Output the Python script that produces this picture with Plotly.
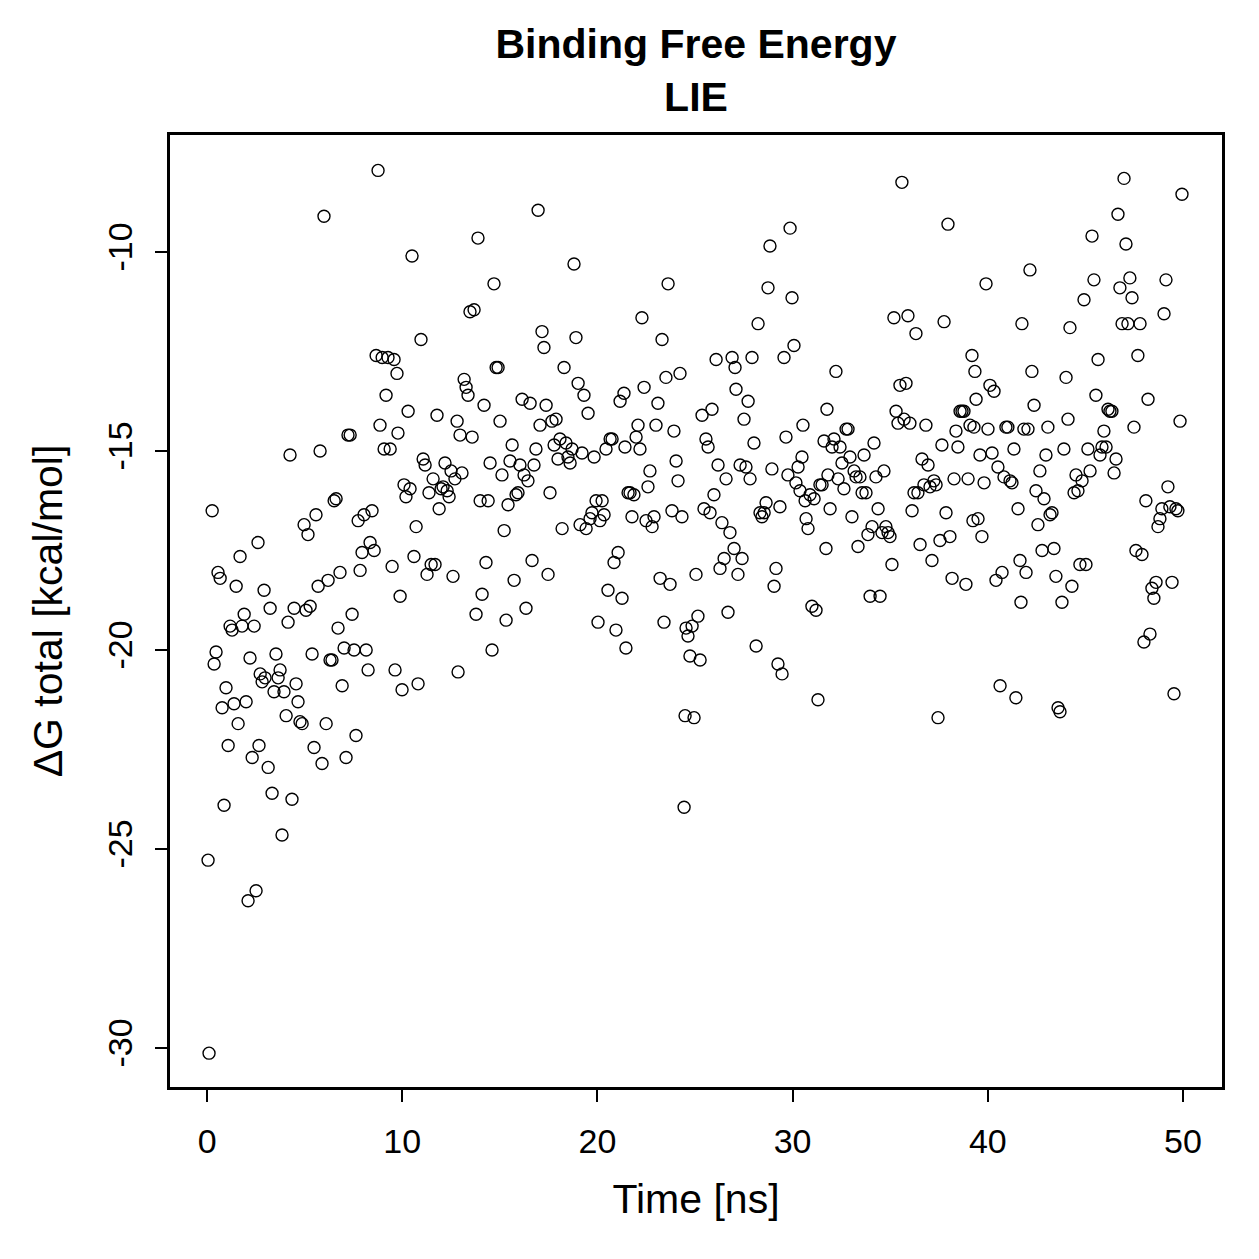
import plotly.graph_objects as go

# Time [ns] and Delta G total [kcal/mol]
time_ns = [
    0.10, 0.05, 0.26, 0.36, 0.46, 0.56, 0.67, 0.77, 0.87, 0.97,
    1.08, 1.18, 1.28, 1.38, 1.49, 1.59, 1.69, 1.79, 1.90, 2.00,
    2.10, 2.20, 2.31, 2.41, 2.51, 2.61, 2.66, 2.72, 2.82, 2.92,
    2.97, 3.13, 3.23, 3.33, 3.43, 3.53, 3.64, 3.74, 3.84, 3.94,
    4.05, 4.15, 4.25, 4.35, 4.46, 4.56, 4.66, 4.76, 4.87, 4.97,
    5.07, 5.17, 5.28, 5.38, 5.48, 5.58, 5.69, 5.79, 5.89, 5.99,
    6.10, 6.20, 6.30, 6.40, 6.51, 6.61, 6.71, 6.81, 6.92, 7.02,
    7.12, 7.22, 7.33, 7.43, 7.53, 7.63, 7.74, 7.84, 7.94, 8.04,
    8.15, 8.25, 8.35, 8.45, 8.56, 8.66, 8.76, 8.86, 8.97, 9.07,
    9.17, 9.27, 9.38, 9.48, 9.58, 9.63, 9.73, 9.78, 9.89, 9.99,
    10.09, 10.19, 10.30, 10.40, 10.50, 10.60, 10.71, 10.81, 10.96, 11.07,
    11.17, 11.27, 11.37, 11.48, 11.58, 11.68, 11.78, 11.89, 11.99, 12.09,
    12.19, 12.30, 12.40, 12.50, 12.60, 12.70, 12.81, 12.86, 12.96, 13.06,
    13.17, 13.27, 13.37, 13.47, 13.58, 13.68, 13.78, 13.88, 13.99, 14.09,
    14.19, 14.29, 14.40, 14.50, 14.60, 14.70, 14.81, 14.91, 15.01, 15.11,
    15.22, 15.32, 15.42, 15.52, 15.63, 15.73, 15.83, 15.93, 16.03, 16.14,
    16.24, 16.34, 16.44, 16.55, 16.65, 16.75, 16.85, 16.96, 17.06, 17.16,
    17.26, 17.37, 17.47, 17.57, 17.67, 17.78, 17.88, 17.98, 18.08, 18.19,
    18.29, 18.39, 18.49, 18.60, 18.70, 18.80, 18.90, 19.01, 19.11, 19.21,
    19.31, 19.42, 19.52, 19.62, 19.72, 19.83, 19.93, 20.03, 20.13, 20.24,
    20.34, 20.44, 20.54, 20.65, 20.75, 20.85, 20.95, 21.06, 21.16, 21.26,
    21.36, 21.41, 21.46, 21.57, 21.67, 21.77, 21.87, 21.98, 22.08, 22.18,
    22.28, 22.39, 22.49, 22.59, 22.69, 22.80, 22.90, 23.00, 23.10, 23.21,
    23.31, 23.41, 23.51, 23.62, 23.72, 23.82, 23.92, 24.03, 24.13, 24.23,
    24.33, 24.44, 24.49, 24.54, 24.64, 24.74, 24.85, 24.95, 25.05, 25.15,
    25.26, 25.36, 25.46, 25.56, 25.67, 25.77, 25.87, 25.97, 26.08, 26.18,
    26.28, 26.38, 26.49, 26.59, 26.69, 26.79, 26.90, 27.00, 27.05, 27.10,
    27.20, 27.31, 27.41, 27.51, 27.61, 27.72, 27.82, 27.92, 28.02, 28.13,
    28.23, 28.33, 28.43, 28.54, 28.64, 28.74, 28.84, 28.94, 29.05, 29.15,
    29.25, 29.35, 29.46, 29.56, 29.66, 29.76, 29.87, 29.97, 30.07, 30.17,
    30.28, 30.38, 30.48, 30.53, 30.64, 30.69, 30.79, 30.89, 30.99, 31.10,
    31.20, 31.30, 31.40, 31.51, 31.61, 31.71, 31.76, 31.81, 31.92, 32.02,
    32.12, 32.22, 32.33, 32.43, 32.53, 32.63, 32.74, 32.84, 32.94, 33.04,
    33.15, 33.25, 33.35, 33.45, 33.56, 33.66, 33.76, 33.86, 33.97, 34.07,
    34.17, 34.27, 34.38, 34.48, 34.58, 34.68, 34.78, 34.89, 34.99, 35.09,
    35.19, 35.30, 35.40, 35.50, 35.60, 35.71, 35.81, 35.91, 36.01, 36.12,
    36.22, 36.32, 36.42, 36.53, 36.63, 36.73, 36.83, 36.94, 37.04, 37.14,
    37.24, 37.35, 37.45, 37.55, 37.65, 37.76, 37.86, 37.96, 38.06, 38.17,
    38.27, 38.37, 38.47, 38.58, 38.68, 38.78, 38.88, 38.99, 39.09, 39.19,
    39.24, 39.29, 39.34, 39.40, 39.50, 39.60, 39.70, 39.81, 39.91, 40.01,
    40.11, 40.22, 40.32, 40.42, 40.52, 40.63, 40.73, 40.83, 40.93, 41.03,
    41.14, 41.24, 41.34, 41.44, 41.55, 41.65, 41.70, 41.75, 41.85, 41.96,
    42.06, 42.16, 42.26, 42.37, 42.47, 42.57, 42.67, 42.78, 42.88, 42.98,
    43.08, 43.19, 43.29, 43.39, 43.49, 43.60, 43.70, 43.80, 43.90, 44.01,
    44.11, 44.21, 44.31, 44.42, 44.52, 44.62, 44.72, 44.83, 44.93, 45.03,
    45.13, 45.24, 45.34, 45.44, 45.54, 45.65, 45.75, 45.85, 45.95, 46.06,
    46.16, 46.26, 46.36, 46.47, 46.57, 46.67, 46.77, 46.88, 46.98, 47.08,
    47.18, 47.28, 47.39, 47.49, 47.59, 47.69, 47.80, 47.90, 48.00, 48.10,
    48.21, 48.31, 48.41, 48.51, 48.62, 48.72, 48.82, 48.92, 49.03, 49.13,
    49.23, 49.33, 49.44, 49.54, 49.64, 49.74, 49.85, 49.95,
]

dg_total = [
    -30.13, -25.28, -16.5, -20.35, -20.05, -18.05, -18.2, -21.45, -23.9, -20.95,
    -22.4, -19.4, -19.5, -21.35, -18.4, -21.85, -17.65, -19.4, -19.1, -21.3,
    -26.3, -20.2, -22.7, -19.4, -26.05, -17.3, -22.4, -20.6, -20.8, -18.5,
    -20.7, -22.95, -18.95, -23.6, -21.05, -20.1, -20.7, -20.5, -24.65, -21.05,
    -21.65, -19.3, -15.1, -23.75, -18.95, -20.85, -21.3, -21.8, -21.85, -16.85,
    -19.0, -17.1, -18.9, -20.1, -22.45, -16.6, -18.4, -15.0, -22.85, -9.1,
    -21.85, -18.25, -20.25, -20.25, -16.25, -16.2, -19.45, -18.05, -20.9, -19.95,
    -22.7, -14.6, -14.6, -19.1, -20.0, -22.15, -16.75, -18.0, -17.55, -16.6,
    -20.0, -20.5, -17.3, -16.5, -17.5, -12.6, -7.95, -14.35, -12.65, -14.95,
    -13.6, -12.65, -14.95, -17.9, -12.7, -20.5, -13.05, -14.55, -18.65, -21.0,
    -15.85, -16.15, -14.0, -15.95, -10.1, -17.65, -16.9, -20.85, -12.2, -15.2,
    -15.35, -18.1, -16.05, -17.85, -15.7, -17.85, -14.1, -16.45, -15.95, -15.9,
    -15.3, -16.0, -16.15, -15.5, -18.15, -15.7, -14.25, -20.55, -14.6, -15.55,
    -13.2, -13.4, -13.6, -11.5, -14.65, -11.45, -19.1, -9.65, -16.25, -18.6,
    -13.85, -17.8, -16.25, -15.3, -20.0, -10.8, -12.9, -12.9, -14.25, -15.6,
    -17.0, -19.25, -16.35, -15.25, -14.85, -18.25, -16.1, -16.05, -15.35, -13.7,
    -15.6, -18.95, -15.75, -13.8, -17.75, -15.35, -14.95, -8.95, -14.35, -12.0,
    -12.4, -13.85, -18.1, -16.05, -14.25, -14.85, -14.2, -15.2, -14.7, -16.95,
    -12.9, -14.8, -15.15, -15.3, -14.95, -10.3, -12.15, -13.3, -16.85, -15.05,
    -13.6, -16.95, -14.05, -16.7, -16.55, -15.15, -16.25, -19.3, -16.75, -16.25,
    -16.6, -14.95, -18.5, -14.7, -14.7, -17.8, -19.5, -17.55, -13.75, -18.7,
    -13.55, -14.9, -19.95, -16.05, -16.05, -16.65, -16.1, -14.65, -14.35, -14.95,
    -11.65, -13.4, -16.75, -15.9, -15.5, -16.9, -16.65, -14.35, -13.8, -18.2,
    -12.2, -19.3, -13.15, -10.8, -18.35, -16.5, -14.5, -15.25, -15.75, -13.05,
    -16.65, -23.95, -21.65, -19.45, -19.65, -20.15, -19.4, -21.7, -18.1, -19.15,
    -20.25, -14.1, -16.45, -14.7, -14.9, -16.55, -13.95, -16.1, -12.7, -15.35,
    -17.95, -16.8, -17.7, -15.7, -19.05, -17.05, -12.65, -17.45, -12.9, -13.45,
    -18.1, -15.35, -17.7, -14.2, -15.4, -13.75, -15.7, -12.65, -14.8, -19.9,
    -11.8, -16.55, -16.65, -16.55, -16.3, -10.9, -9.85, -15.45, -18.4, -17.95,
    -20.35, -16.4, -20.6, -12.65, -14.65, -15.6, -9.4, -11.15, -12.35, -15.8,
    -15.4, -16.0, -15.15, -14.35, -16.25, -16.7, -16.95, -16.1, -18.9, -16.2,
    -19.0, -21.25, -15.85, -15.85, -14.75, -17.45, -13.95, -15.6, -16.45, -14.9,
    -14.7, -13.0, -15.7, -14.9, -15.3, -15.95, -14.45, -14.45, -15.15, -16.65,
    -15.5, -15.65, -17.4, -15.65, -16.05, -15.1, -16.05, -17.1, -18.65, -16.9,
    -14.8, -15.65, -16.45, -18.65, -17.05, -15.5, -16.9, -17.05, -17.15, -17.85,
    -11.65, -14.0, -14.3, -13.35, -8.25, -14.2, -13.3, -11.6, -14.3, -16.5,
    -16.05, -12.05, -16.05, -17.35, -15.2, -15.85, -14.35, -15.35, -15.9, -17.75,
    -15.75, -15.85, -21.7, -17.25, -14.85, -11.75, -16.55, -9.3, -17.15, -18.2,
    -15.7, -14.5, -14.9, -14.0, -14.0, -14.0, -18.35, -15.7, -14.35, -12.6,
    -16.75, -14.4, -13.0, -13.7, -16.7, -15.1, -17.15, -15.8, -10.8, -14.45,
    -13.35, -15.05, -13.5, -18.25, -15.4, -20.9, -18.05, -15.65, -14.4, -14.4,
    -15.75, -15.8, -14.95, -21.2, -16.45, -17.75, -18.8, -11.8, -14.45, -18.05,
    -14.45, -10.45, -13.0, -13.85, -16.0, -16.85, -15.5, -17.5, -16.2, -15.1,
    -14.4, -16.6, -16.55, -17.45, -18.15, -21.45, -21.55, -18.8, -14.95, -13.15,
    -14.2, -11.9, -18.4, -16.05, -15.6, -16.0, -17.85, -15.75, -11.2, -17.85,
    -14.95, -15.5, -9.6, -10.7, -13.6, -12.7, -15.1, -14.9, -14.5, -14.9,
    -13.95, -14.0, -14.0, -15.55, -15.2, -9.05, -10.9, -11.8, -8.15, -9.8,
    -11.8, -10.65, -11.15, -14.4, -17.5, -12.6, -11.8, -17.6, -19.8, -16.25,
    -13.7, -19.6, -18.45, -18.7, -18.3, -16.9, -16.7, -16.45, -11.55, -10.7,
    -15.9, -16.4, -18.3, -21.1, -16.45, -16.5, -14.25, -8.55,
]

x_ticks = [0, 10, 20, 30, 40, 50]
x_tick_labels = ["0", "10", "20", "30", "40", "50"]
y_ticks = [-30, -25, -20, -15, -10]
y_tick_labels = ["-30", "-25", "-20", "-15", "-10"]

FONT = "Liberation Sans, Arial, Helvetica, sans-serif"

fig = go.Figure(
    go.Scatter(
        x=time_ns,
        y=dg_total,
        mode="markers",
        marker=dict(symbol="circle-open", size=12, color="black",
                    line=dict(width=1.4, color="black")),
        showlegend=False,
        hoverinfo="x+y",
    )
)

fig.update_layout(
    width=1259,
    height=1259,
    margin=dict(l=170, r=37, t=135, b=172),
    paper_bgcolor="white",
    plot_bgcolor="white",
    font=dict(family=FONT, size=34, color="black"),
    title=dict(
        text="<b>Binding Free Energy</b><br><b>LIE</b>",
        x=(170 + 1222) / 2 / 1259,
        xanchor="center",
        xref="container",
        y=1 - 58 / 1259,
        yanchor="middle",
        yref="container",
        font=dict(family=FONT, size=41, color="black"),
    ),
    xaxis=dict(
        range=[-1.9, 52.0],
        tickmode="array",
        tickvals=x_ticks,
        ticktext=x_tick_labels,
        ticks="outside",
        ticklen=12,
        tickwidth=2,
        tickcolor="black",
        showline=True,
        linecolor="black",
        linewidth=2.5,
        mirror=True,
        showgrid=False,
        zeroline=False,
        ticklabelstandoff=10,
        title=dict(text="Time [ns]", standoff=26, font=dict(size=41)),
    ),
    yaxis=dict(
        range=[-30.98, -7.06],
        tickmode="array",
        tickvals=y_ticks,
        ticktext=y_tick_labels,
        tickangle=-90,
        ticks="outside",
        ticklen=12,
        tickwidth=2,
        tickcolor="black",
        showline=True,
        linecolor="black",
        linewidth=2.5,
        mirror=True,
        showgrid=False,
        zeroline=False,
        ticklabelstandoff=10,
        title=dict(text="ΔG total [kcal/mol]", standoff=26, font=dict(size=41)),
    ),
)

fig.write_html("out.html")
